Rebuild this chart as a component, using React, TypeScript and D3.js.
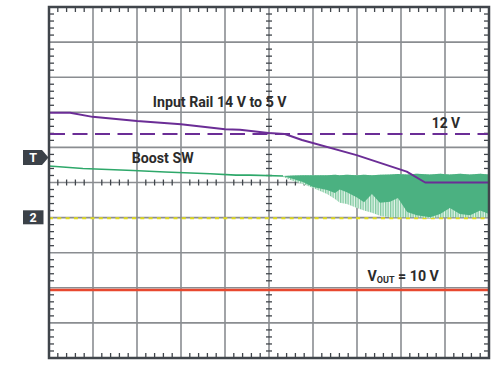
import React from "react";
import * as d3 from "d3";

const W = 500;
const H = 367;
const PLOT = { left: 49, right: 489, top: 7, bottom: 358 };
const X_DIVS = 10;
const Y_DIVS = 10;

// Input rail (purple), time in divisions, level in divisions from centre
const railT = [0, 0.48, 0.99, 2.0, 3.0, 4.0, 4.34, 4.99, 5.36, 5.75, 6.99, 8.13, 8.55, 10];
const railV = [1.99, 1.99, 1.87, 1.75, 1.66, 1.52, 1.5, 1.41, 1.38, 1.21, 0.78, 0.31, 0.0, 0.0];

// Boost SW (green) before switching starts
const boostT = [0, 0.77, 1.91, 2.64, 3.66, 4.25, 4.57, 5.32];
const boostV = [0.47, 0.4, 0.34, 0.3, 0.25, 0.21, 0.21, 0.185];

// Boost SW switching envelope
const bandT = [5.32, 5.55, 5.77, 6.0, 6.32, 6.5, 6.61, 6.77, 7.0, 7.16, 7.34, 7.52, 7.75, 7.93, 8.14, 8.36, 8.66, 8.89, 9.11, 9.34, 9.57, 9.8, 10];
const bandTop = [0.185, 0.2, 0.21, 0.21, 0.21, 0.22, 0.21, 0.22, 0.21, 0.22, 0.21, 0.22, 0.23, 0.24, 0.23, 0.25, 0.23, 0.25, 0.23, 0.25, 0.23, 0.25, 0.23];
const bandDark = [0.185, 0.1, 0.014, -0.128, -0.214, -0.3, -0.2, -0.28, -0.43, -0.56, -0.33, -0.58, -0.55, -0.44, -0.84, -0.93, -0.99, -0.9, -0.73, -0.9, -0.93, -0.8, -0.9];
const bandHatch = [0.157, 0.043, -0.043, -0.157, -0.33, -0.47, -0.58, -0.61, -0.73, -0.8, -0.86, -0.95, -0.99, -0.99, -0.99, -0.99, -1.01, -0.99, -0.99, -0.99, -0.99, -0.99, -0.99];

// Reference levels (divisions)
const rail12Level = 1.38;
const ch2Ground = -1.02;
const voutLevel = -3.06;
const triggerLevel = 0.71;

const labelRail = "Input Rail 14 V to 5 V";
const label12 = "12 V";
const labelBoost = "Boost SW";
const labelVout = ["V", "OUT", " = 10 V"];

const GRID = "#8a8d91";
const BORDER = "#40454b";
const PURPLE = "#6b2d96";
const GREEN = "#2ea86a";
const GREEN_DARK = "#4bb181";
const TEXT = "#2b2b2b";
const FONT = "Roboto, 'Open Sans', sans-serif";

export default function App() {
  const x = d3.scaleLinear().domain([0, X_DIVS]).range([PLOT.left, PLOT.right]);
  const y = d3.scaleLinear().domain([-Y_DIVS / 2, Y_DIVS / 2]).range([PLOT.bottom, PLOT.top]);

  const majorX = d3.range(1, X_DIVS);
  const majorY = d3.range(-Y_DIVS / 2 + 1, Y_DIVS / 2);
  const minorX = d3.range(0, X_DIVS * 5 + 1).map((i) => i / 5).filter((v) => Math.abs(v - Math.round(v)) > 1e-6);
  const minorY = d3.range(-Y_DIVS * 2.5, Y_DIVS * 2.5 + 1).map((i) => i / 5).filter((v) => Math.abs(v - Math.round(v)) > 1e-6);

  const railLine = d3.line<number>().x((d, i) => x(railT[i])).y((d) => y(d))(railV) || "";
  const boostLine = d3.line<number>().x((d, i) => x(boostT[i])).y((d) => y(d))(boostV) || "";
  const hatchArea = d3.area<number>().x((d, i) => x(bandT[i])).y0((d, i) => y(bandHatch[i])).y1((d) => y(d))(bandTop) || "";
  const darkArea = d3.area<number>().x((d, i) => x(bandT[i])).y0((d, i) => y(bandDark[i])).y1((d) => y(d))(bandTop) || "";

  const cx = x(X_DIVS / 2);
  const cy = y(0);
  const tick = 5;

  const trigY = y(triggerLevel);
  const ch2Y = y(ch2Ground);

  return (
    <svg width={W} height={H} style={{ position: "absolute", left: 0, top: 0, background: "#fff" }} fontFamily={FONT}>
      <defs>
        <pattern id="hatch" width="2.5" height="4" patternUnits="userSpaceOnUse">
          <rect width="2.5" height="4" fill="#e6f5ec" />
          <rect width="1.3" height="4" fill="#7fc9a0" />
        </pattern>
      </defs>
      <rect x={0} y={0} width={W} height={H} fill="#fff" />
      {/* major grid */}
      {majorX.map((v) => (
        <line key={"gx" + v} x1={x(v)} x2={x(v)} y1={PLOT.top} y2={PLOT.bottom} stroke={GRID} strokeWidth={1.6} />
      ))}
      {majorY.map((v) => (
        <line key={"gy" + v} x1={PLOT.left} x2={PLOT.right} y1={y(v)} y2={y(v)} stroke={GRID} strokeWidth={1.6} />
      ))}
      {/* minor ticks on borders and centre lines */}
      {minorX.map((v) => (
        <g key={"mx" + v} stroke={BORDER} strokeWidth={1.3}>
          <line x1={x(v)} x2={x(v)} y1={PLOT.top} y2={PLOT.top + tick} />
          <line x1={x(v)} x2={x(v)} y1={PLOT.bottom} y2={PLOT.bottom - tick} />
          <line x1={x(v)} x2={x(v)} y1={cy - 3} y2={cy + 3} />
        </g>
      ))}
      {minorY.map((v) => (
        <g key={"my" + v} stroke={BORDER} strokeWidth={1.3}>
          <line x1={PLOT.left} x2={PLOT.left + tick} y1={y(v)} y2={y(v)} />
          <line x1={PLOT.right} x2={PLOT.right - tick} y1={y(v)} y2={y(v)} />
          <line x1={cx - 3} x2={cx + 3} y1={y(v)} y2={y(v)} />
        </g>
      ))}

      {/* reference levels */}
      <line x1={PLOT.left} x2={PLOT.right} y1={y(ch2Ground)} y2={y(ch2Ground)} stroke="#e2dc1e" strokeWidth={2} strokeDasharray="4 4.3" />
      <line x1={PLOT.left} x2={PLOT.right} y1={y(voutLevel)} y2={y(voutLevel)} stroke="#e8482f" strokeWidth={2.5} />
      <line x1={PLOT.left} x2={PLOT.right} y1={y(rail12Level)} y2={y(rail12Level)} stroke={PURPLE} strokeWidth={2} strokeDasharray="15 7.5" strokeDashoffset={-1} />

      {/* Boost SW */}
      <path d={hatchArea} fill="url(#hatch)" />
      <path d={darkArea} fill={GREEN_DARK} />
      <path d={boostLine} fill="none" stroke={GREEN} strokeWidth={1.6} />

      {/* Input rail */}
      <path d={railLine} fill="none" stroke={PURPLE} strokeWidth={2} strokeLinejoin="round" />

      {/* border */}
      <rect x={PLOT.left} y={PLOT.top} width={PLOT.right - PLOT.left} height={PLOT.bottom - PLOT.top} fill="none" stroke={BORDER} strokeWidth={2.5} />

      {/* labels */}
      <text x={x(2.36)} y={y(2.14)} fontSize={14.2} fontWeight={700} fill={TEXT}>{labelRail}</text>
      <text x={x(8.7)} y={y(1.56)} fontSize={13.8} fontWeight={700} fill={TEXT}>{label12}</text>
      <text x={x(1.88)} y={y(0.55)} fontSize={14.2} fontWeight={700} fill={TEXT}>{labelBoost}</text>
      <text x={x(7.24)} y={y(-2.81)} fontSize={14.2} fontWeight={700} fill={TEXT}>
        {labelVout[0]}
        <tspan fontSize={9} dy={2}>{labelVout[1]}</tspan>
        <tspan dy={-2}>{labelVout[2]}</tspan>
      </text>

      {/* channel markers */}
      <path d={`M23,${trigY - 7.5} H42 L48.5,${trigY} L42,${trigY + 7.5} H23 Z`} fill="#3b4148" />
      <text x={33} y={trigY + 4.5} fontSize={12.5} fontWeight={700} fill="#fff" textAnchor="middle">T</text>
      <rect x={23} y={ch2Y - 8} width={20.5} height={14} fill="#3b4148" />
      <text x={33.2} y={ch2Y + 3.8} fontSize={12.5} fontWeight={700} fill="#fff" textAnchor="middle">2</text>
    </svg>
  );
}
